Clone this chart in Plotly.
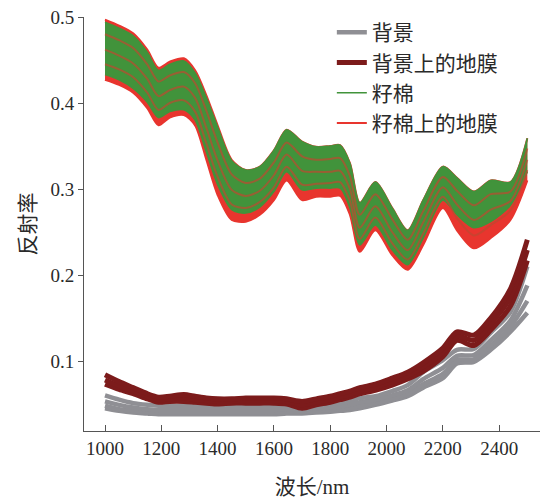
import plotly.graph_objects as go

# Wavelength grid (nm)
wavelength = [1000, 1050, 1100, 1150, 1190, 1230, 1280, 1320, 1360, 1400, 1450, 1500, 1550,
              1600, 1645, 1700, 1750, 1800, 1835, 1870, 1905, 1960, 2020, 2075, 2130, 2200,
              2250, 2310, 2370, 2440, 2500]

# 背景 (soil background) – several spectra
bg_1 = [0.060, 0.055, 0.051, 0.049, 0.048, 0.048, 0.048, 0.048, 0.048, 0.048, 0.048, 0.048, 0.048,
        0.048, 0.048, 0.048, 0.049, 0.050, 0.051, 0.053, 0.057, 0.059, 0.065, 0.072, 0.087, 0.101,
        0.113, 0.114, 0.133, 0.157, 0.210]
bg_2 = [0.053, 0.049, 0.046, 0.044, 0.043, 0.043, 0.043, 0.043, 0.043, 0.043, 0.043, 0.043, 0.043,
        0.043, 0.044, 0.044, 0.045, 0.046, 0.047, 0.049, 0.052, 0.055, 0.060, 0.066, 0.079, 0.092,
        0.106, 0.107, 0.124, 0.147, 0.188]
bg_3 = [0.048, 0.044, 0.042, 0.040, 0.040, 0.040, 0.040, 0.040, 0.040, 0.040, 0.040, 0.040, 0.040,
        0.040, 0.041, 0.041, 0.042, 0.043, 0.044, 0.046, 0.048, 0.051, 0.056, 0.062, 0.073, 0.085,
        0.101, 0.102, 0.118, 0.140, 0.170]
bg_4 = [0.045, 0.042, 0.040, 0.039, 0.038, 0.038, 0.038, 0.038, 0.038, 0.038, 0.038, 0.038, 0.038,
        0.038, 0.039, 0.039, 0.040, 0.041, 0.042, 0.043, 0.045, 0.049, 0.054, 0.059, 0.069, 0.080,
        0.097, 0.099, 0.113, 0.134, 0.156]

# 背景上的地膜 (mulch film on soil)
bgfilm_1 = [0.084, 0.076, 0.069, 0.062, 0.058, 0.059, 0.061, 0.059, 0.057, 0.056, 0.056, 0.057, 0.057,
            0.057, 0.056, 0.053, 0.056, 0.059, 0.062, 0.065, 0.069, 0.073, 0.080, 0.087, 0.098, 0.115,
            0.134, 0.130, 0.150, 0.184, 0.241]
bgfilm_2 = [0.078, 0.071, 0.065, 0.059, 0.055, 0.056, 0.057, 0.055, 0.054, 0.053, 0.053, 0.054, 0.054,
            0.054, 0.053, 0.049, 0.052, 0.055, 0.058, 0.061, 0.065, 0.069, 0.076, 0.083, 0.093, 0.110,
            0.129, 0.124, 0.143, 0.174, 0.229]
bgfilm_3 = [0.073, 0.067, 0.062, 0.056, 0.052, 0.053, 0.053, 0.052, 0.051, 0.050, 0.051, 0.051, 0.051,
            0.051, 0.050, 0.045, 0.049, 0.052, 0.055, 0.058, 0.062, 0.066, 0.072, 0.079, 0.088, 0.105,
            0.124, 0.118, 0.136, 0.164, 0.217]

# 籽棉上的地膜 (mulch film on seed cotton) – envelope and inner spectra
film_upper = [0.497, 0.490, 0.481, 0.462, 0.441, 0.448, 0.452, 0.438, 0.409, 0.374, 0.334, 0.322, 0.326,
              0.345, 0.369, 0.355, 0.349, 0.350, 0.351, 0.330, 0.284, 0.308, 0.278, 0.252, 0.287, 0.326,
              0.313, 0.297, 0.310, 0.308, 0.359]
film_lower = [0.427, 0.421, 0.412, 0.394, 0.374, 0.383, 0.386, 0.374, 0.334, 0.293, 0.264, 0.262, 0.270,
              0.287, 0.310, 0.287, 0.291, 0.291, 0.292, 0.270, 0.227, 0.252, 0.223, 0.206, 0.235, 0.278,
              0.252, 0.231, 0.243, 0.264, 0.310]
film_a = [0.480, 0.473, 0.464, 0.445, 0.425, 0.432, 0.436, 0.423, 0.391, 0.354, 0.317, 0.307, 0.312,
          0.331, 0.354, 0.338, 0.334, 0.335, 0.336, 0.315, 0.270, 0.294, 0.265, 0.241, 0.274, 0.314,
          0.298, 0.281, 0.294, 0.297, 0.347]
film_b = [0.462, 0.455, 0.446, 0.428, 0.408, 0.415, 0.419, 0.406, 0.371, 0.333, 0.299, 0.292, 0.298,
          0.316, 0.340, 0.321, 0.320, 0.320, 0.321, 0.300, 0.255, 0.280, 0.250, 0.229, 0.261, 0.302,
          0.282, 0.264, 0.276, 0.286, 0.334]
film_c = [0.445, 0.439, 0.430, 0.412, 0.392, 0.400, 0.403, 0.390, 0.353, 0.314, 0.282, 0.278, 0.285,
          0.302, 0.326, 0.305, 0.306, 0.307, 0.308, 0.286, 0.242, 0.267, 0.237, 0.218, 0.248, 0.291,
          0.266, 0.246, 0.258, 0.275, 0.322]

# 籽棉 (seed cotton) – envelope
cotton_upper = [0.494, 0.487, 0.478, 0.459, 0.438, 0.445, 0.449, 0.435, 0.406, 0.372, 0.333, 0.322, 0.326,
                0.345, 0.369, 0.355, 0.349, 0.350, 0.351, 0.330, 0.284, 0.308, 0.278, 0.252, 0.287, 0.326,
                0.313, 0.297, 0.310, 0.308, 0.359]
cotton_lower = [0.433, 0.427, 0.417, 0.401, 0.383, 0.390, 0.392, 0.380, 0.343, 0.305, 0.276, 0.272, 0.279,
                0.297, 0.320, 0.299, 0.301, 0.301, 0.301, 0.278, 0.235, 0.258, 0.229, 0.212, 0.243, 0.287,
                0.270, 0.255, 0.262, 0.281, 0.320]

y_ticks = [0.1, 0.2, 0.3, 0.4, 0.5]
y_labels = ["0.1", "0.2", "0.3", "0.4", "0.5"]
x_ticks = [1000, 1200, 1400, 1600, 1800, 2000, 2200, 2400]

C_BG = "#8f8f94"
C_BGFILM = "#7c1b1b"
C_COTTON = "#41933b"
C_FILM = "#e8352e"

fig = go.Figure()
sm = dict(shape="spline", smoothing=0.8)

for i, s in enumerate([bg_4, bg_3, bg_2, bg_1]):
    fig.add_trace(go.Scatter(x=wavelength, y=s, mode="lines", name="背景",
                             line=dict(color=C_BG, width=4.5, **sm), legendgroup="bg",
                             showlegend=(i == 0), legendrank=1))
for i, s in enumerate([bgfilm_3, bgfilm_2, bgfilm_1]):
    fig.add_trace(go.Scatter(x=wavelength, y=s, mode="lines", name="背景上的地膜",
                             line=dict(color=C_BGFILM, width=5, **sm), legendgroup="bgfilm",
                             showlegend=(i == 0), legendrank=2))

# film band on cotton (red)
fig.add_trace(go.Scatter(x=wavelength, y=film_lower, mode="lines", name="籽棉上的地膜",
                         line=dict(color=C_FILM, width=2, **sm), legendgroup="film",
                         showlegend=True, legendrank=4))
fig.add_trace(go.Scatter(x=wavelength, y=film_upper, mode="lines", fill="tonexty",
                         fillcolor=C_FILM, line=dict(color=C_FILM, width=2, **sm),
                         legendgroup="film", showlegend=False))
# cotton band (green)
fig.add_trace(go.Scatter(x=wavelength, y=cotton_lower, mode="lines", name="籽棉",
                         line=dict(color=C_COTTON, width=1.5, **sm), legendgroup="cotton",
                         showlegend=True, legendrank=3))
fig.add_trace(go.Scatter(x=wavelength, y=cotton_upper, mode="lines", fill="tonexty",
                         fillcolor=C_COTTON, line=dict(color=C_COTTON, width=1.5, **sm),
                         legendgroup="cotton", showlegend=False))
# inner film spectra
for s in [film_a, film_b, film_c]:
    fig.add_trace(go.Scatter(x=wavelength, y=s, mode="lines",
                             line=dict(color="rgba(190,72,48,0.7)", width=2, **sm),
                             legendgroup="film", showlegend=False))

font_family = "'Liberation Serif', 'Times New Roman', 'Noto Sans CJK SC', serif"
fig.update_layout(
    width=542, height=504,
    margin=dict(l=84, r=2, t=17, b=73),
    paper_bgcolor="white", plot_bgcolor="white",
    font=dict(family=font_family, color="#2a2a2a", size=19),
    legend=dict(x=0.5435, y=1.012, xanchor="left", yanchor="top",
                font=dict(size=21, family=font_family, color="#2a2a2a"),
                bgcolor="rgba(0,0,0,0)", tracegroupgap=0, itemwidth=30),
    xaxis=dict(range=[925.4, 2545], tickvals=x_ticks, ticks="inside", ticklen=6,
               tickcolor="#555", showline=True, linecolor="#555", linewidth=1,
               showgrid=False, zeroline=False, mirror=False, automargin=False,
               title=dict(text="波长/nm", font=dict(size=21), standoff=21)),
    yaxis=dict(range=[0.0186, 0.5], tickvals=y_ticks, ticktext=y_labels,
               ticks="outside", ticklen=5, tickcolor="#555", showline=True, linecolor="#555",
               linewidth=1, showgrid=False, zeroline=False, mirror=False, automargin=False,
               title=dict(text="反射率", font=dict(size=21), standoff=9)),
    showlegend=True,
)

# remove the default 8px page margin so the 542x504 figure fills the window exactly
fig.write_html("out.html", config={"displayModeBar": False},
               post_script="document.body.style.margin='0';document.body.style.overflow='hidden';")
